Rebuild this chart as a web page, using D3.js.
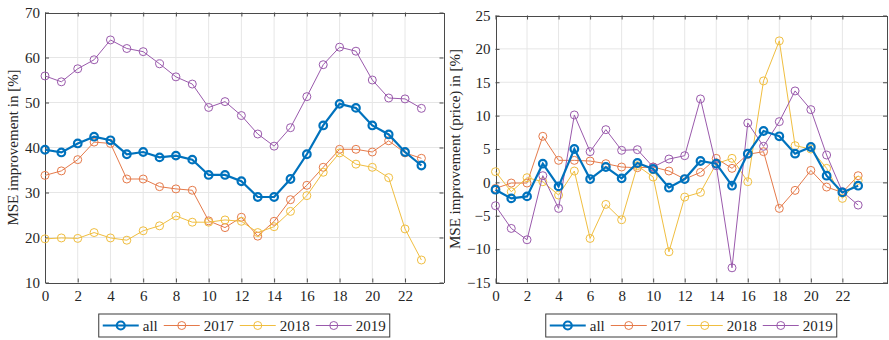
<!DOCTYPE html>
<html>
<head>
<meta charset="utf-8">
<script src="https://cdn.jsdelivr.net/npm/d3@7"></script>
<style>
  body { margin: 0; background: #fff; }
  svg text { font-family: "Liberation Serif", "Times New Roman", Times, "DejaVu Serif", serif !important; }
</style>
</head>
<body>
<svg id="chart" width="889" height="340" style="display:block"></svg>
<script>
// hours of day
const hours = [0,1,2,3,4,5,6,7,8,9,10,11,12,13,14,15,16,17,18,19,20,21,22,23];
const xTicks = [0,2,4,6,8,10,12,14,16,18,20,22];
const seriesNames = ["all","2017","2018","2019"];

// left panel: MSE improvement in [%]
const mseAll  = [39.5,38.9,40.9,42.4,41.6,38.5,39.0,37.8,38.2,37.3,33.9,33.9,32.5,29.0,29.0,33.0,38.5,44.9,49.7,48.8,44.9,42.9,39.0,36.0];
const mse2017 = [33.8,34.8,37.3,41.2,40.9,33.0,33.0,31.3,30.8,30.5,23.7,22.2,24.5,20.3,23.6,28.4,31.6,35.6,39.6,39.6,39.0,41.5,38.8,37.6];
const mse2018 = [19.7,19.9,19.8,21.1,19.9,19.4,21.5,22.6,24.8,23.4,23.4,23.9,23.6,21.1,22.4,25.8,29.3,34.5,38.8,36.3,35.6,33.3,21.9,15.0];
const mse2019 = [55.9,54.6,57.5,59.5,63.9,62.0,61.3,58.6,55.7,54.1,48.9,50.2,47.1,43.0,40.3,44.4,51.3,58.4,62.3,61.4,55.0,51.0,50.8,48.7];
const mseTicks = [10,20,30,40,50,60,70];

// right panel: MSE improvement (price) in [%]
const priceAll  = [-1.1,-2.4,-2.1,2.8,-0.6,5.0,0.5,2.3,0.6,2.9,2.0,-0.8,0.5,3.2,2.8,-0.5,4.3,7.7,6.9,4.3,5.3,1.0,-1.5,-0.5];
const price2017 = [-0.9,-0.1,-0.1,6.9,3.3,3.3,3.2,2.8,2.3,2.2,2.3,1.7,0.5,1.5,3.6,2.1,4.2,4.6,-3.9,-1.2,1.8,-0.7,-1.5,1.0];
const price2018 = [1.6,-1.4,0.7,0.1,-1.9,1.7,-8.4,-3.3,-5.6,2.5,0.8,-10.4,-2.2,-1.5,2.8,3.6,0.1,15.2,21.2,5.5,5.0,2.1,-2.4,0.3];
const price2019 = [-3.5,-6.9,-8.6,1.0,-3.9,10.1,4.6,7.9,4.8,4.9,2.3,3.5,4.0,12.5,2.5,-12.8,8.9,5.4,9.1,13.7,10.9,4.1,-1.4,-3.4];
const priceTicks = [-15,-10,-5,0,5,10,15,20,25];

const color = d3.scaleOrdinal()
    .domain(seriesNames)
    .range(["#0072BD","#E57A4A","#F0BE40","#9A5AAC"]);

const svg = d3.select("#chart");

function drawPanel(opt) {
    const x = d3.scaleLinear().domain([0, opt.xMax]).range([opt.left, opt.right]);
    const y = d3.scaleLinear().domain(d3.extent(opt.yTicks)).range([opt.bottom, opt.top]);
    const g = svg.append("g");

    // grid
    g.append("g").selectAll("line").data(xTicks.slice(1)).join("line")
        .attr("x1", d => x(d)).attr("x2", d => x(d))
        .attr("y1", opt.top).attr("y2", opt.bottom)
        .attr("stroke", "#e6e6e6").attr("stroke-width", 1);
    g.append("g").selectAll("line").data(opt.yTicks.slice(1, -1)).join("line")
        .attr("x1", opt.left).attr("x2", opt.right)
        .attr("y1", d => y(d)).attr("y2", d => y(d))
        .attr("stroke", "#e6e6e6").attr("stroke-width", 1);

    // axes, ticks inside on all four sides
    const styleAxis = sel => {
        sel.attr("font-family", null);
        sel.selectAll("path.domain").attr("stroke", "#4a4a4a");
        sel.selectAll(".tick line").attr("stroke", "#4a4a4a");
        sel.selectAll("text").attr("fill", "#262626").attr("font-size", 15);
    };
    g.append("g").attr("transform", `translate(0,${opt.bottom})`)
        .call(d3.axisBottom(x).tickValues(xTicks).tickSizeInner(-4).tickSizeOuter(0).tickPadding(8))
        .call(styleAxis);
    g.append("g").attr("transform", `translate(0,${opt.top})`)
        .call(d3.axisTop(x).tickValues(xTicks).tickSizeInner(-4).tickSizeOuter(0).tickFormat(""))
        .call(styleAxis);
    g.append("g").attr("transform", `translate(${opt.left},0)`)
        .call(d3.axisLeft(y).tickValues(opt.yTicks).tickSizeInner(-4).tickSizeOuter(0).tickPadding(5))
        .call(styleAxis);
    g.append("g").attr("transform", `translate(${opt.right},0)`)
        .call(d3.axisRight(y).tickValues(opt.yTicks).tickSizeInner(-4).tickSizeOuter(0).tickFormat(""))
        .call(styleAxis);
    g.selectAll(".domain").attr("shape-rendering", "crispEdges");

    // y label
    g.append("text")
        .attr("transform", `translate(${opt.labelX},${(opt.top + opt.bottom) / 2}) rotate(-90)`)
        .attr("text-anchor", "middle")
        .attr("font-size", 15)
        .attr("fill", "#262626")
        .text(opt.yLabel);

    // series (thin ones first, "all" on top)
    const line = d3.line().x((d, i) => x(hours[i])).y(d => y(d));
    const order = [1, 2, 3, 0];
    order.forEach(k => {
        const name = seriesNames[k], vals = opt.series[k];
        const thick = name === "all";
        const s = g.append("g");
        s.append("path").datum(vals)
            .attr("d", line)
            .attr("fill", "none")
            .attr("stroke", color(name))
            .attr("stroke-width", thick ? 2.2 : 1);
        s.selectAll("circle").data(vals).join("circle")
            .attr("cx", (d, i) => x(hours[i]))
            .attr("cy", d => y(d))
            .attr("r", thick ? 3.8 : 4)
            .attr("fill", "none")
            .attr("stroke", color(name))
            .attr("stroke-width", thick ? 2.2 : 1);
    });

    // legend
    const leg = g.append("g");
    const lineLen = 36, pad = 4, gap = 4, sep = 6;
    const box = leg.append("rect")
        .attr("fill", "#fff").attr("stroke", "#3a3a3a").attr("stroke-width", 1);
    let cx = 0;
    seriesNames.forEach(name => {
        const it = leg.append("g").attr("transform", `translate(${cx},0)`);
        const thick = name === "all";
        it.append("line").attr("x1", 0).attr("x2", lineLen).attr("y1", 0).attr("y2", 0)
            .attr("stroke", color(name)).attr("stroke-width", thick ? 2.2 : 1);
        it.append("circle").attr("cx", lineLen / 2).attr("cy", 0).attr("r", 4)
            .attr("fill", "none").attr("stroke", color(name)).attr("stroke-width", thick ? 2.2 : 1);
        const t = it.append("text").attr("x", lineLen + gap).attr("y", 5)
            .attr("font-size", 15).attr("fill", "#262626").text(name);
        cx += lineLen + gap + t.node().getComputedTextLength() + sep;
    });
    const legW = cx - sep + 2 * pad;
    const legH = 23;
    const legX = (opt.left + opt.right) / 2 - legW / 2;
    box.attr("x", -pad).attr("y", -legH / 2).attr("width", legW).attr("height", legH);
    leg.attr("transform", `translate(${legX + pad},${opt.legendTop + legH / 2})`);
}

drawPanel({
    left: 45, right: 443.5, top: 12.5, bottom: 282.5, xMax: 24.35,
    yTicks: mseTicks, yLabel: "MSE improvement in [%]", labelX: 18,
    series: [mseAll, mse2017, mse2018, mse2019], legendTop: 314
});
drawPanel({
    left: 495.5, right: 887, top: 15.5, bottom: 282.5, xMax: 24.83,
    yTicks: priceTicks, yLabel: "MSE improvement (price) in [%]", labelX: 460,
    series: [priceAll, price2017, price2018, price2019], legendTop: 314
});
</script>
</body>
</html>
